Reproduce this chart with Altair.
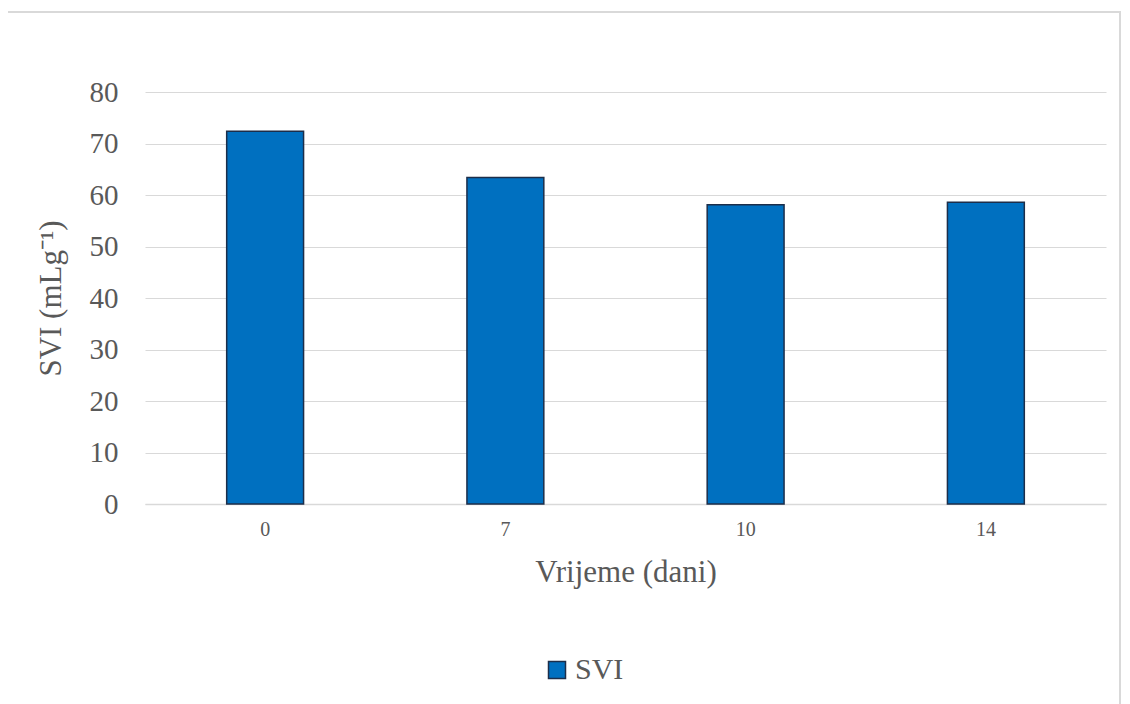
import altair as alt
import pandas as pd

days = ["0", "7", "10", "14"]
svi = [72.4, 63.4, 58.1, 58.6]
series = ["SVI", "SVI", "SVI", "SVI"]

df = pd.DataFrame({"day": days, "svi": svi, "series": series})

FONT = "Liberation Serif"
GREY = "#595959"

bars = alt.Chart(df).mark_bar(stroke="#1c2e4a", strokeWidth=1.5).encode(
    x=alt.X("day:N", sort=days, scale=alt.Scale(paddingInner=0.68, paddingOuter=0.34),
            axis=alt.Axis(title="Vrijeme (dani)", labelAngle=0, labelFontSize=20,
                          labelColor=GREY, titleFontSize=31, titleColor=GREY,
                          titleFontWeight="normal", labelPadding=15, titlePadding=18,
                          domainColor="#d9d9d9", domainWidth=1.5, ticks=False,
                          labelFont=FONT, titleFont=FONT)),
    y=alt.Y("svi:Q", scale=alt.Scale(domain=[0, 80]),
            axis=alt.Axis(title="SVI (mLg⁻¹)", values=list(range(0, 81, 10)),
                          labelFontSize=29, labelColor=GREY, titleFontSize=31,
                          titleColor=GREY, titleFontWeight="normal",
                          domain=False, ticks=False, labelPadding=27, titlePadding=22,
                          gridColor="#d9d9d9", gridWidth=1.2,
                          labelFont=FONT, titleFont=FONT)),
    color=alt.Color("series:N", scale=alt.Scale(range=["#0070c0"]),
                    legend=alt.Legend(title=None, orient="none", legendX=397, legendY=563,
                                      symbolType="square", symbolSize=289,
                                      symbolStrokeColor="#1c2e4a", symbolStrokeWidth=1.5,
                                      labelFontSize=30, labelColor=GREY,
                                      labelFont=FONT, labelOffset=3)),
)

border = alt.Chart(df).mark_rect(fill=None, stroke="#d9d9d9", strokeWidth=1.5, clip=False).encode(
    x=alt.value(-138), x2=alt.value(975), y=alt.value(-80), y2=alt.value(640)
)

chart = alt.layer(border, bars).properties(
    width=961, height=412,
    padding={"left": 137, "top": 84, "right": 16, "bottom": 210},
    autosize=alt.AutoSizeParams(type="none"),
).configure_view(stroke=None)

chart.save("out.html", embed_options={"renderer": "svg", "actions": False})
